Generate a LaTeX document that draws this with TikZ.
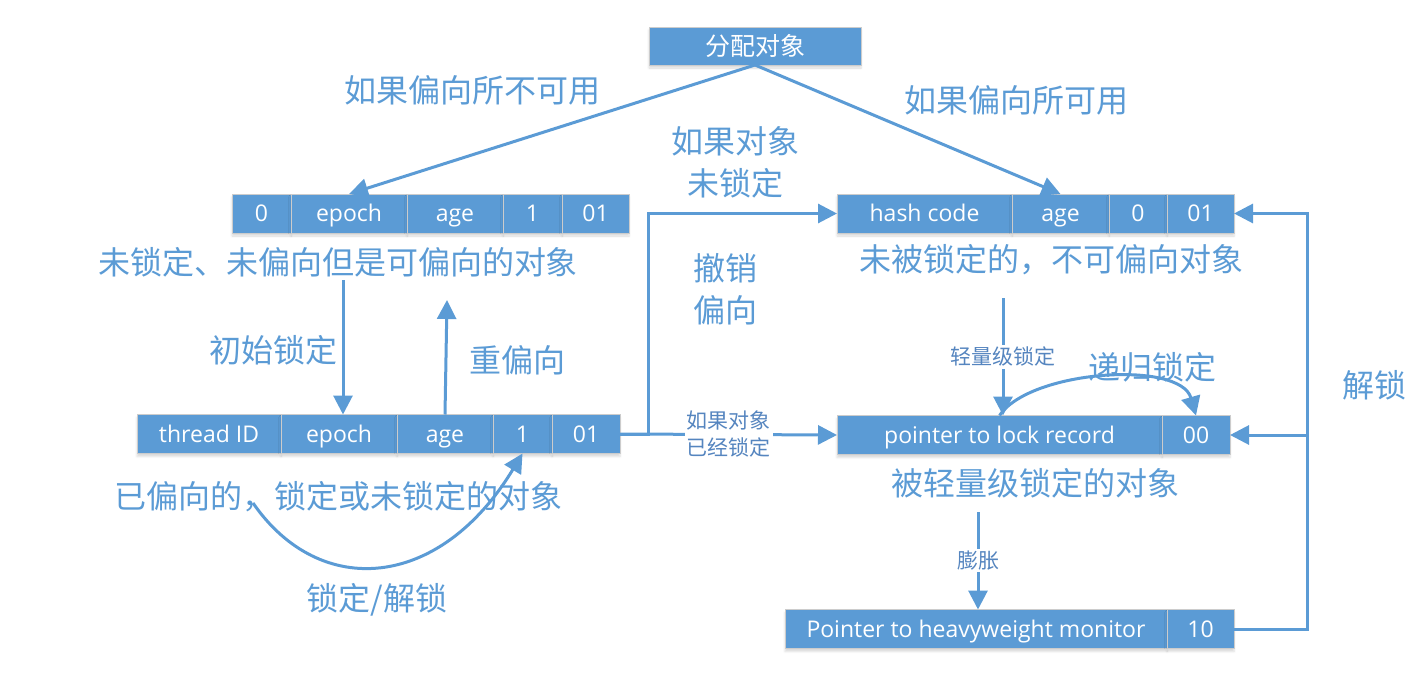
\documentclass[tikz,border=0pt]{standalone}
\usepackage{fontspec}
\setmainfont{Open Sans}
\newfontfamily\cjk{Noto Sans CJK SC}
\usetikzlibrary{positioning,arrows.meta,shadows.blur}

\definecolor{boxblue}{HTML}{5B9BD5}
\definecolor{labelblue}{HTML}{5B9BD5}
\definecolor{smallblue}{HTML}{5585BF}

\newcommand\boxfont{\fontsize{23}{27}\selectfont}
\newcommand\bigfont{\cjk\fontsize{32}{42}\selectfont}
\newcommand\smallfont{\cjk\fontsize{21}{27}\selectfont}

\tikzset{
  cell/.style={draw=gray!40, line width=1pt, fill=boxblue, text=white,
    minimum height=39pt, inner sep=0pt, outer sep=0pt, font=\boxfont,
    text height=20pt, text depth=4pt,
    blur shadow={shadow xshift=0pt, shadow yshift=-3pt, shadow opacity=15}},
  biglabel/.style={text=labelblue, font=\bigfont, align=center, inner sep=1pt},
  smalllabel/.style={text=smallblue, font=\smallfont, align=center, fill=white, inner sep=2pt},
  arrow/.style={draw=boxblue, line width=3pt, -{Triangle[length=19pt,width=19pt]}},
}

\begin{document}
\begin{tikzpicture}[x=1pt, y=-1pt]
    \useasboundingbox (0,0) rectangle (1427,688);

    % allocation
    \node [cell, minimum width=212pt, minimum height=38pt, text height=22pt, text depth=4pt, font=\cjk\fontsize{25}{30}\selectfont] (alloc) at (755,46) {分配对象};

    % unlocked, biasable
    \node [cell, minimum width=59pt, anchor=west] (l1zero) at (232,213.5) {0};
    \node [cell, minimum width=116pt, right=0pt of l1zero] (l1epoch) {epoch};
    \node [cell, minimum width=96pt, right=0pt of l1epoch] (l1age) {age};
    \node [cell, minimum width=59pt, right=0pt of l1age] (l1one) {1};
    \node [cell, minimum width=67pt, right=0pt of l1one] (l1b) {01};
    \node [biglabel] (l1cap) at (338,262) {未锁定、未偏向但是可偏向的对象};

    % unlocked, not biasable
    \node [cell, minimum width=175pt, anchor=west] (r1hash) at (837,213.5) {hash code};
    \node [cell, minimum width=97pt, right=0pt of r1hash] (r1age) {age};
    \node [cell, minimum width=58pt, right=0pt of r1age] (r1zero) {0};
    \node [cell, minimum width=67pt, right=0pt of r1zero] (r1b) {01};
    \node [biglabel] (r1cap) at (1051,260) {未被锁定的，不可偏向对象};

    % biased
    \node [cell, minimum width=144pt, anchor=west] (l2thread) at (137,434) {thread ID};
    \node [cell, minimum width=116pt, right=0pt of l2thread] (l2epoch) {epoch};
    \node [cell, minimum width=96pt, right=0pt of l2epoch] (l2age) {age};
    \node [cell, minimum width=59pt, right=0pt of l2age] (l2one) {1};
    \node [cell, minimum width=68pt, right=0pt of l2one] (l2b) {01};
    \node [biglabel] (l2cap) at (338,497) {已偏向的，锁定或未锁定的对象};

    % lightweight locked
    \node [cell, minimum width=325pt, anchor=west] (r2ptr) at (837,435) {pointer to lock record};
    \node [cell, minimum width=68pt, right=0pt of r2ptr] (r2bits) {00};
    \node [biglabel] (r2cap) at (1035,483) {被轻量级锁定的对象};

    % heavyweight locked
    \node [cell, minimum width=382pt, anchor=west] (r3ptr) at (785,629) {Pointer to heavyweight monitor};
    \node [cell, minimum width=67pt, right=0pt of r3ptr] (r3bits) {10};

    % labels
    \node [biglabel] (nobias) at (472,90) {如果偏向所不可用};
    \node [biglabel] (bias) at (1016,100) {如果偏向所可用};
    \node [biglabel] (notlocked) at (735,162) {如果对象\\未锁定};
    \node [biglabel] (revoke) at (725,289) {撤销\\偏向};
    \node [biglabel] (initlock) at (273,350) {初始锁定};
    \node [biglabel] (rebias) at (517,360) {重偏向};
    \node [biglabel] (recursive) at (1152,367) {递归锁定};
    \node [biglabel] (lockunlock) at (377,600) {锁定/解锁};
    \node [biglabel] (unlock) at (1374,385) {解锁};

    \coordinate (initstart) at (343,280);
    \coordinate (rebiasend) at (447,300);
    \coordinate (lwstart) at (1003,298);
    \coordinate (inflstart) at (978,512);
    \coordinate (loopstart) at (253,503);

    % arrows
    \draw [arrow] (alloc.south) -- (l1epoch.north);
    \draw [arrow] (alloc.south) -- (r1age.north);
    \draw [arrow] (initstart) -- (initstart |- l2epoch.north);
    \draw [arrow] (l2age.north) -- (rebiasend);
    \draw [arrow] (l2b.east) -- ++(28,0) |- (r1hash.west);
    \draw [arrow] (l2b.east) -- node [smalllabel] {如果对象\\已经锁定} (r2ptr.west);
    \draw [arrow] (lwstart) -- node [smalllabel] {轻量级锁定} (lwstart |- r2ptr.north);
    \draw [arrow] (r2ptr.north) .. controls (1030,370) and (1180,360) .. (r2bits.north);
    \draw [arrow] (inflstart) -- node [smalllabel] {膨胀} (inflstart |- r3ptr.north);
    \draw [arrow] (r3bits.east) -- ++(73,0) coordinate (unl) |- (r1b.east);
    \draw [arrow] (unl |- r2bits.east) -- (r2bits.east);
    \draw [arrow] (loopstart) .. controls (320,600) and (440,590) .. (l2one.south);
\end{tikzpicture}
\end{document}
